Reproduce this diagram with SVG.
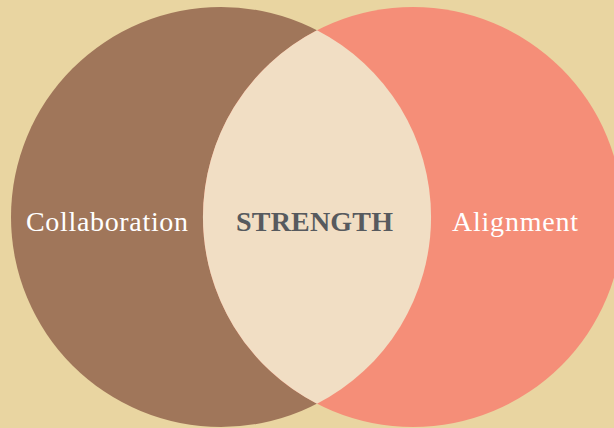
<svg xmlns="http://www.w3.org/2000/svg" width="614" height="428" viewBox="0 0 614 428">
<style>
.lbl{font-family:"Liberation Serif","Times New Roman",serif;font-size:28px;text-anchor:middle}
.w{fill:#FFFFFF}
.c{fill:#575A5E;font-weight:bold}
</style>
<rect width="614" height="428" fill="#E9D5A1"/>
<g id="collaboration">
<circle cx="221" cy="217" r="210" fill="#A0765A"/>
<text class="lbl w" x="107" y="231" textLength="162" lengthAdjust="spacing">Collaboration</text>
</g>
<g id="alignment">
<circle cx="413" cy="217" r="210" fill="#F58E78"/>
<text class="lbl w" x="515" y="231" textLength="126" lengthAdjust="spacing">Alignment</text>
</g>
<g id="strength">
<path d="M317,30.2 A210,210 0 0,0 317,403.8 A210,210 0 0,0 317,30.2 Z" fill="#F1DEC4"/>
<text class="lbl c" x="314.5" y="231" textLength="157" lengthAdjust="spacing">STRENGTH</text>
</g>
<g id="connectors"/>
</svg>
